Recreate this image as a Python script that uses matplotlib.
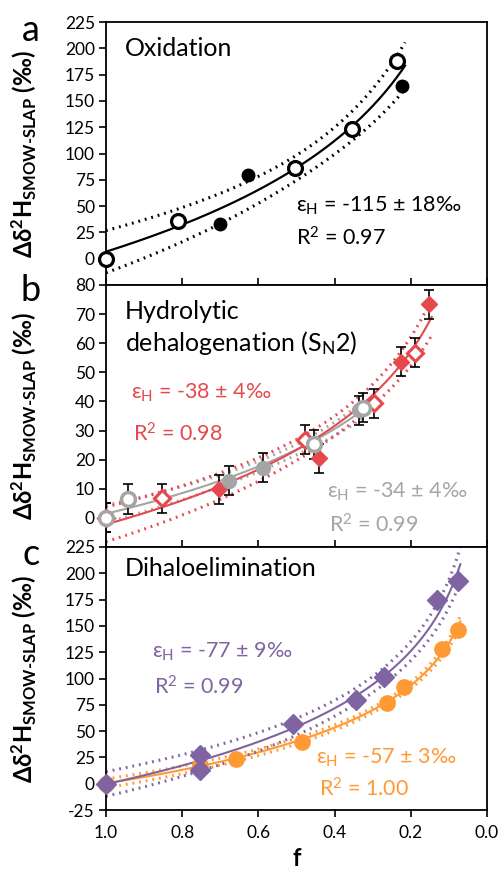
import numpy as np
import matplotlib
matplotlib.use('Agg')
import matplotlib.pyplot as plt

plt.rcParams['font.family'] = ['Lato', 'DejaVu Sans']
plt.rcParams['mathtext.fontset'] = 'custom'
plt.rcParams['mathtext.rm'] = 'Lato'
plt.rcParams['mathtext.bf'] = 'Lato:bold'
plt.rcParams['mathtext.it'] = 'Lato:italic'
plt.rcParams['mathtext.fallback'] = 'stixsans'
plt.rcParams['axes.unicode_minus'] = False

# panel a - oxidation
ox_open_f = [1.0, 0.81, 0.505, 0.355, 0.235]
ox_open_d = [0, 36, 86, 123, 188]
ox_fill_f = [0.70, 0.626, 0.222]
ox_fill_d = [33, 80, 164]

# panel b - hydrolytic dehalogenation
red_open_f = [1.0, 0.853, 0.478, 0.296, 0.189]
red_open_d = [0, 6.8, 26.8, 39.4, 56.8]
red_fill_f = [0.704, 0.441, 0.2245, 0.152]
red_fill_d = [9.8, 20.5, 53.7, 73.4]
grey_open_f = [1.0, 0.941, 0.454, 0.325]
grey_open_d = [0, 6.5, 25.3, 37.9]
grey_fill_f = [0.678, 0.588, 0.335]
grey_fill_d = [12.7, 17.3, 37.0]
err_b = 5

# panel c - dihaloelimination
pur_f = [1.0, 0.754, 0.754, 0.509, 0.345, 0.27, 0.13, 0.0755]
pur_d = [0, 27, 13, 56.5, 80, 101, 174.6, 192.6]
err_pur = 3
ora_f = [1.0, 0.754, 0.658, 0.485, 0.263, 0.218, 0.118, 0.0755]
ora_d = [0, 18, 23.3, 39.7, 77, 92, 127.7, 145.8]

RED = '#E5484D'
GREY = '#A5A5A5'
PURPLE = '#8064A2'
ORANGE = '#FF9933'

t95 = {3: 3.182, 4: 2.776, 5: 2.571, 6: 2.447, 7: 2.365, 8: 2.306, 9: 2.262,
       10: 2.228, 11: 2.201, 12: 2.179, 13: 2.160, 14: 2.145}


def fit_band(ax, f, d, color, f_end, lw=1.5):
    # linear fit of delta vs ln(f) with 95% confidence band
    f = np.asarray(f, float)
    d = np.asarray(d, float)
    x = np.log(f)
    slope, icpt = np.polyfit(x, d, 1)
    n = len(x)
    res = d - (slope * x + icpt)
    s = np.sqrt(np.sum(res ** 2) / (n - 2))
    xm = x.mean()
    sxx = np.sum((x - xm) ** 2)
    ff = np.linspace(1.0, f_end, 200)
    xx = np.log(ff)
    yy = slope * xx + icpt
    hw = t95[n - 2] * s * np.sqrt(1.0 / n + (xx - xm) ** 2 / sxx)
    ax.plot(ff, yy, color=color, lw=lw, zorder=2)
    ax.plot(ff, yy + hw, color=color, lw=2.2, ls=(0, (0.6, 1.6)), zorder=2)
    ax.plot(ff, yy - hw, color=color, lw=2.2, ls=(0, (0.6, 1.6)), zorder=2)


fig = plt.figure(figsize=(4.99, 8.71), dpi=100)
L, W = 0.2124, 0.7635
ax_a = fig.add_axes([L, 0.6728, W, 0.3019])
ax_b = fig.add_axes([L, 0.3720, W, 0.3008])
ax_c = fig.add_axes([L, 0.0700, W, 0.3020])

ylab = r'$\mathbf{Δδ^2H_{SMOW‐SLAP}}$ (‰)'
for ax in (ax_a, ax_b, ax_c):
    ax.set_xlim(1.0, 0.0)
    ax.set_xticks([1.0, 0.8, 0.6, 0.4, 0.2, 0.0])
    ax.tick_params(axis='y', direction='out', length=5, width=1.2, labelsize=12.5, pad=3)
    ax.tick_params(axis='x', direction='in', length=5, width=1.2, labelsize=12.5)
    for sp in ax.spines.values():
        sp.set_linewidth(1.3)
    ax.set_ylabel(ylab, fontsize=17, fontweight='bold')
    ax.yaxis.set_label_coords(-0.175, 0.5)

# --- a
ax_a.set_ylim(-25, 225)
ax_a.set_yticks(np.arange(0, 226, 25))
ax_a.tick_params(axis='x', labelbottom=False)
fit_band(ax_a, ox_open_f + ox_fill_f, ox_open_d + ox_fill_d, 'black', 0.215, lw=1.6)
ax_a.plot(ox_fill_f, ox_fill_d, 'o', color='black', ms=9, zorder=3, clip_on=False)
ax_a.plot(ox_open_f, ox_open_d, 'o', mfc='white', mec='black', mew=2.3, ms=10, zorder=4,
          clip_on=False)
ax_a.text(0.95, 200, 'Oxidation', fontsize=18, va='center')
ax_a.text(0.50, 50, r'$\mathregular{ε_H}$ = -115 ± 18‰', fontsize=15.5, va='center')
ax_a.text(0.50, 20, r'$\mathregular{R^2}$ = 0.97', fontsize=15.5, va='center')

# --- b
ax_b.set_ylim(-10, 80)
ax_b.set_yticks(np.arange(0, 81, 10))
ax_b.tick_params(axis='x', labelbottom=False)
fit_band(ax_b, grey_open_f + grey_fill_f, grey_open_d + grey_fill_d, GREY, 0.32)
fit_band(ax_b, red_open_f + red_fill_f, red_open_d + red_fill_d, RED, 0.145)
for ff, dd in ((red_open_f, red_open_d), (red_fill_f, red_fill_d),
               (grey_open_f, grey_open_d), (grey_fill_f, grey_fill_d)):
    ax_b.errorbar(ff, dd, yerr=err_b, fmt='none', ecolor='black', elinewidth=1.2,
                  capsize=3.5, capthick=1.2, zorder=3)
ax_b.plot(red_fill_f, red_fill_d, 'D', color=RED, ms=8, zorder=4, clip_on=False)
ax_b.plot(red_open_f, red_open_d, 'D', mfc='white', mec=RED, mew=2.2, ms=8, zorder=4,
          clip_on=False)
ax_b.plot(grey_fill_f, grey_fill_d, 'o', color=GREY, ms=10, zorder=5, clip_on=False)
ax_b.plot(grey_open_f, grey_open_d, 'o', mfc='white', mec=GREY, mew=2.5, ms=10, zorder=5,
          clip_on=False)
ax_b.text(0.95, 71, 'Hydrolytic', fontsize=18, va='center')
ax_b.text(0.95, 60, r'dehalogenation (S$\mathregular{_N}$2)', fontsize=18, va='center')
ax_b.text(0.935, 43, r'$\mathregular{ε_H}$ = -38 ± 4‰', fontsize=15.5, va='center', color=RED)
ax_b.text(0.93, 29, r'$\mathregular{R^2}$ = 0.98', fontsize=15.5, va='center', color=RED)
ax_b.text(0.42, 9, r'$\mathregular{ε_H}$ = -34 ± 4‰', fontsize=15.5, va='center', color=GREY)
ax_b.text(0.415, -2.5, r'$\mathregular{R^2}$ = 0.99', fontsize=15.5, va='center', color=GREY)

# --- c
ax_c.set_ylim(-25, 225)
ax_c.set_yticks(np.arange(-25, 226, 25))
ax_c.tick_params(axis='x', direction='out', pad=6)
ax_c.set_xticklabels(['1.0', '0.8', '0.6', '0.4', '0.2', '0.0'])
fit_band(ax_c, ora_f, ora_d, ORANGE, 0.07)
fit_band(ax_c, pur_f, pur_d, PURPLE, 0.07)
ax_c.plot(ora_f, ora_d, 'o', color=ORANGE, ms=11, zorder=3, clip_on=False)
ax_c.errorbar(pur_f, pur_d, yerr=err_pur, fmt='none', ecolor='black', elinewidth=1,
              capsize=2.5, ls=':', zorder=3)
ax_c.plot(pur_f, pur_d, 'D', color=PURPLE, ms=10, zorder=4, clip_on=False)
ax_c.text(0.95, 205, 'Dihaloelimination', fontsize=18, va='center')
ax_c.text(0.88, 125, r'$\mathregular{ε_H}$ = -77 ± 9‰', fontsize=15.5, va='center', color=PURPLE)
ax_c.text(0.875, 92, r'$\mathregular{R^2}$ = 0.99', fontsize=15.5, va='center', color=PURPLE)
ax_c.text(0.45, 25, r'$\mathregular{ε_H}$ = -57 ± 3‰', fontsize=15.5, va='center', color=ORANGE)
ax_c.text(0.44, -5, r'$\mathregular{R^2}$ = 1.00', fontsize=15.5, va='center', color=ORANGE)
ax_c.set_xlabel('f', fontsize=17, fontweight='bold', labelpad=4)

# panel letters
fig.text(0.062, 0.965, 'a', fontsize=26, ha='center', va='center')
fig.text(0.062, 0.666, 'b', fontsize=26, ha='center', va='center')
fig.text(0.062, 0.363, 'c', fontsize=26, ha='center', va='center')

plt.savefig('out.png', dpi=100)
